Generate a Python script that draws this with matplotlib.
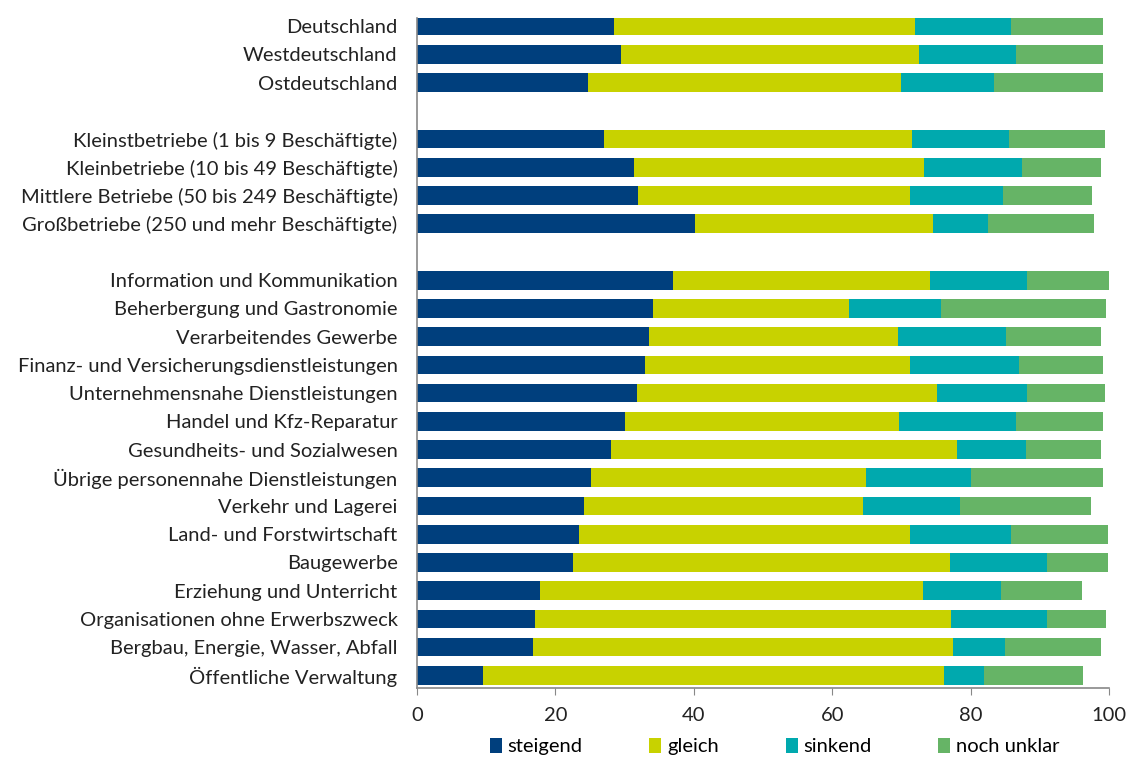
import matplotlib
matplotlib.use("Agg")
import matplotlib.pyplot as plt
import numpy as np

plt.rcParams['font.family'] = ['Lato', 'DejaVu Sans']

# categories, top to bottom ('' = empty gap row)
labels = ['Deutschland', 'Westdeutschland', 'Ostdeutschland', '',
          'Kleinstbetriebe (1 bis 9 Beschäftigte)',
          'Kleinbetriebe (10 bis 49 Beschäftigte)',
          'Mittlere Betriebe (50 bis 249 Beschäftigte)',
          'Großbetriebe (250 und mehr Beschäftigte)', '',
          'Information und Kommunikation',
          'Beherbergung und Gastronomie',
          'Verarbeitendes Gewerbe',
          'Finanz- und Versicherungsdienstleistungen',
          'Unternehmensnahe Dienstleistungen',
          'Handel und Kfz-Reparatur',
          'Gesundheits- und Sozialwesen',
          'Übrige personennahe Dienstleistungen',
          'Verkehr und Lagerei',
          'Land- und Forstwirtschaft',
          'Baugewerbe',
          'Erziehung und Unterricht',
          'Organisationen ohne Erwerbszweck',
          'Bergbau, Energie, Wasser, Abfall',
          'Öffentliche Verwaltung']

# cumulative ends (0 for gap rows)
end_steigend = [28.5, 29.5, 24.7, 0, 27.0, 31.4, 31.9, 40.1, 0,
                37.0, 34.1, 33.5, 33.0, 31.8, 30.1, 28.0, 25.2,
                24.2, 23.4, 22.6, 17.7, 17.0, 16.7, 9.5]
end_gleich = [72.0, 72.6, 69.9, 0, 71.6, 73.2, 71.3, 74.6, 0,
              74.2, 62.4, 69.5, 71.2, 75.1, 69.7, 78.1, 64.9,
              64.4, 71.3, 77.0, 73.1, 77.1, 77.5, 76.1]
end_sinkend = [85.9, 86.5, 83.4, 0, 85.5, 87.4, 84.7, 82.5, 0,
               88.1, 75.7, 85.1, 87.0, 88.2, 86.5, 88.0, 80.1,
               78.4, 85.9, 91.0, 84.4, 91.0, 84.9, 81.9]
end_unklar = [99.1, 99.1, 99.2, 0, 99.4, 98.8, 97.6, 97.8, 0,
              100.0, 99.6, 98.9, 99.2, 99.4, 99.1, 98.9, 99.1,
              97.4, 99.9, 99.8, 96.1, 99.6, 98.8, 96.2]

series = ['steigend', 'gleich', 'sinkend', 'noch unklar']
colors = ['#003f7d', '#c8d200', '#00a9ae', '#66b466']

ends = np.array([end_steigend, end_gleich, end_sinkend, end_unklar])
starts = np.vstack([np.zeros(len(labels)), ends[:-1]])
widths = ends - starts

fig = plt.figure(figsize=(11.32, 7.57), dpi=100)
ax = fig.add_axes([0.3684, 0.0911, 0.6113, 0.8855])

y = np.arange(len(labels))
for name, color, left, w in zip(series, colors, starts, widths):
    ax.barh(y, w, left=left, height=0.66, color=color, label=name)

ax.set_ylim(23.45, -0.3)
ax.set_xlim(0, 100)
ax.set_yticks(y)
ax.set_yticklabels(labels, fontsize=14.5, color='#222222')
ax.tick_params(axis='y', length=0, pad=14)
ax.set_xticks([0, 20, 40, 60, 80, 100])
ax.tick_params(axis='x', labelsize=14.5, length=5, color='#888888',
               labelcolor='#222222', pad=9)
for s in ['top', 'right']:
    ax.spines[s].set_visible(False)
for s in ['left', 'bottom']:
    ax.spines[s].set_color('#888888')
    ax.spines[s].set_linewidth(1.2)

ax.legend(loc='center', bbox_to_anchor=(0.517, -0.087), ncol=4, frameon=False,
          fontsize=14.5, handlelength=0.6, handleheight=0.8, handletextpad=0.3,
          columnspacing=3.3)

fig.savefig('out.png', dpi=100)
